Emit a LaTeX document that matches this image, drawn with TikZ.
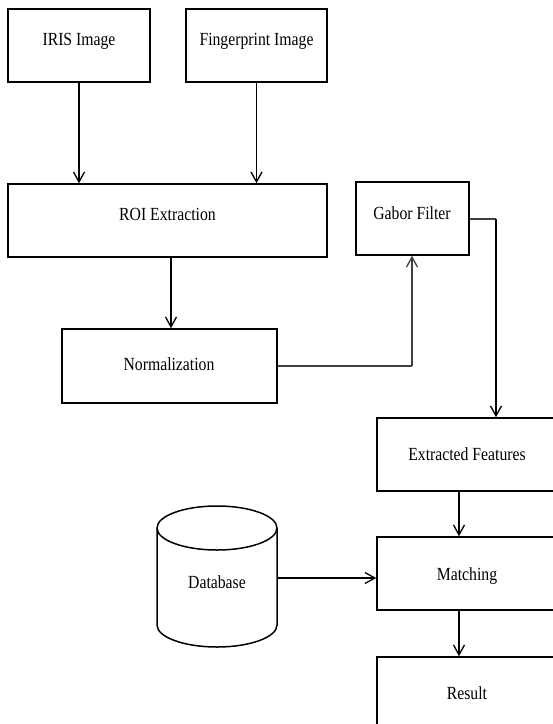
\documentclass[tikz,border=0pt]{standalone}
\usepackage{fontspec}
\setmainfont{Liberation Serif}[FakeStretch=0.85]
\usetikzlibrary{arrows.meta}
\begin{document}
\begin{tikzpicture}[x=1pt,y=-1pt,
  box/.style={draw,line width=1.5pt,inner sep=0pt},
  txt/.style={anchor=base,inner sep=0pt,font=\fontsize{18.5}{20}\selectfont},
  link/.style={line width=1.3pt,-{Straight Barb[length=10pt,width=11pt,line width=1.3pt]}},
  plain/.style={line width=1.3pt,draw=black!75}]
\useasboundingbox (0,0) rectangle (553,724);
\fill[white] (0,0) rectangle (553,724);
\clip (0,0) rectangle (553,724);

% process boxes
\node[box,minimum width=142pt,minimum height=73pt] (iris) at (79,45.5) {};
\node[box,minimum width=141pt,minimum height=73pt] (finger) at (256.5,45.5) {};
\node[box,minimum width=319pt,minimum height=73pt] (roi) at (167.5,220.5) {};
\node[box,minimum width=113pt,minimum height=73pt] (gabor) at (412.5,218.5) {};
\node[box,minimum width=215pt,minimum height=74pt] (norm) at (169.5,366) {};
\node[box,minimum width=180pt,minimum height=73pt] (feat) at (467,454.5) {};
\node[box,minimum width=180pt,minimum height=73pt] (match) at (467,573.5) {};
\node[box,minimum width=180pt,minimum height=80pt] (result) at (467,697) {};

% labels
\node[txt] (irisT) at (79,45) {IRIS Image};
\node[txt] (fingerT) at (256.5,45) {Fingerprint Image};
\node[txt] (roiT) at (167.5,220) {ROI Extraction};
\node[txt] (gaborT) at (412,219) {Gabor Filter};
\node[txt] (normT) at (169,370) {Normalization};
\node[txt] (featT) at (467,460) {Extracted Features};
\node[txt] (matchT) at (467,580) {Matching};
\node[txt] (resultT) at (467,699) {Result};

% database cylinder
\draw[line width=1.5pt,fill=white]
  (157,528) -- (157,625) arc[start angle=180,end angle=0,x radius=60,y radius=22]
  -- (277,528) arc[start angle=0,end angle=-180,x radius=60,y radius=22] -- cycle;
\draw[line width=1.5pt] (157,528) arc[start angle=180,end angle=0,x radius=60,y radius=22];
\node[txt] (dbT) at (217,588) {Database};
\coordinate (db) at (277,578);

% connectors
\coordinate (featIn) at (459,0);
\draw[link] (iris.south) -- (iris.south |- roi.north);
\draw[link] (finger.south) -- (finger.south |- roi.north);
\draw[link] (171,0 |- roi.south) -- (171,0 |- norm.north);
\draw[plain] (norm.east) -- (412,366) coordinate (bend1);
\draw[link,draw=black!75] (bend1) -- (bend1 |- gabor.south);
\draw[plain] (gabor.east |- 0,219) -- (496,219) coordinate (bend2);
\draw[link] (bend2) -- (bend2 |- feat.north);
\draw[link] (featIn |- feat.south) -- (featIn |- match.north);
\draw[link] (featIn |- match.south) -- (featIn |- result.north);
\draw[link] (db) -- (db -| match.west);
\end{tikzpicture}
\end{document}
